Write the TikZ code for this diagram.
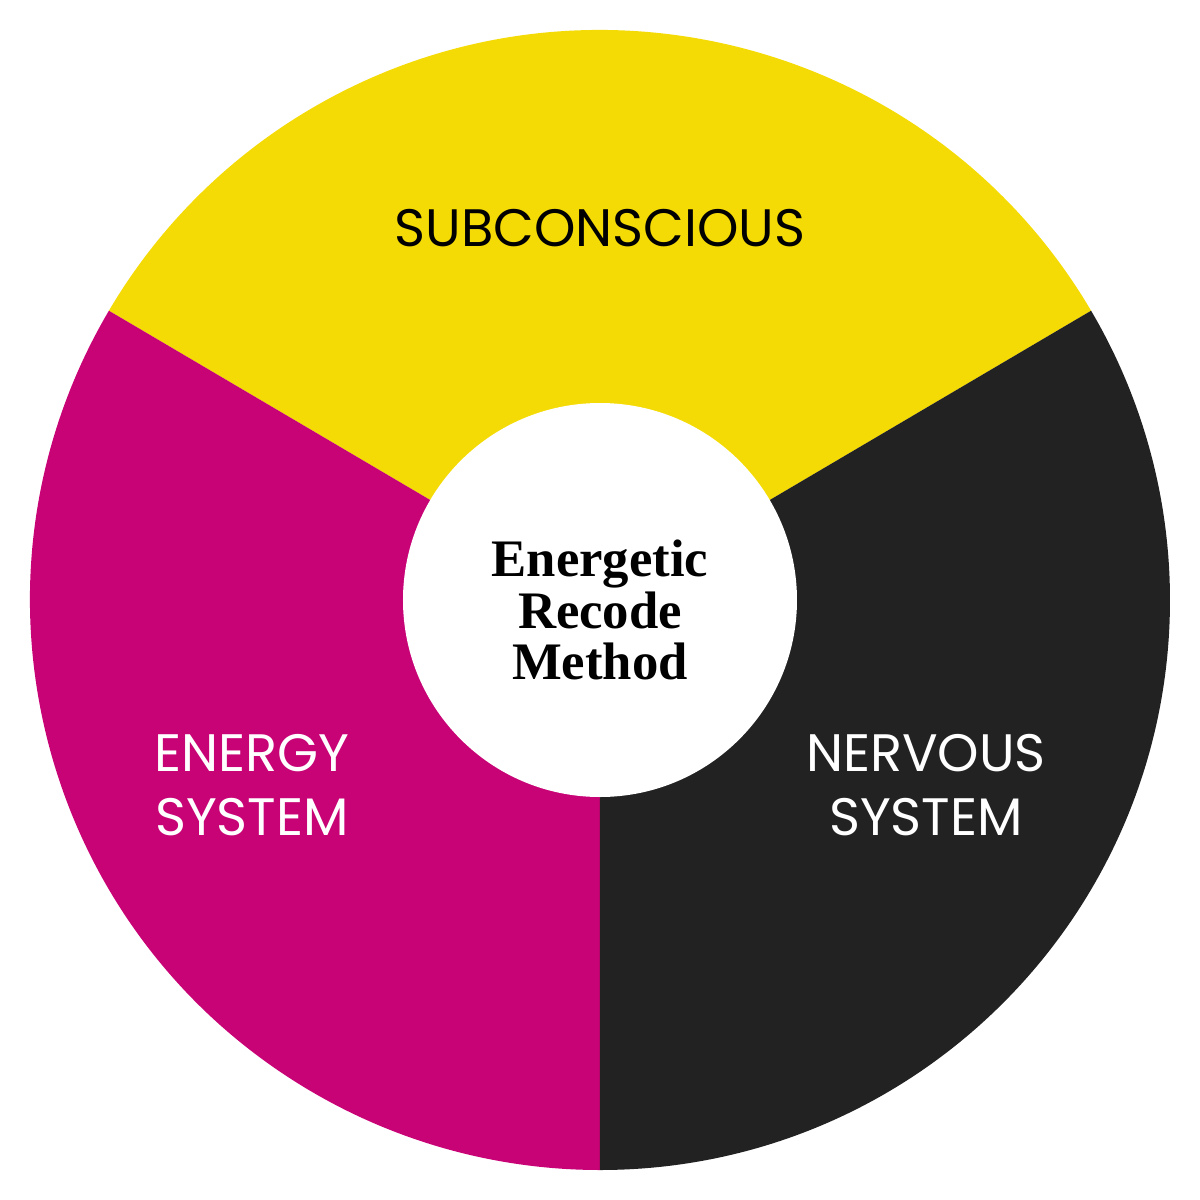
\documentclass[tikz,border=0pt]{standalone}
\usepackage{fontspec}
\setsansfont{Poppins}
\newfontfamily\recodefont{Liberation Serif}
\definecolor{subYellow}{HTML}{F5DB05}
\definecolor{energyPink}{HTML}{C80376}
\definecolor{nervousBlack}{HTML}{222222}

\tikzset{WheelLabel/.style={font=\sffamily\fontsize{15}{18}\selectfont,align=center},
         WheelHub/.style={circle,fill=white,minimum size=3.94cm,inner sep=0pt}}

\begin{document}
\begin{tikzpicture}[x=1cm,y=1cm,line cap=round]
  \useasboundingbox (-6,-6) rectangle (6,6);
  % Three sectors of the wheel, roughly 120 degrees each.
  \foreach \a/\b/\c in {30.5/149.5/subYellow,149.5/270/energyPink,270/390.5/nervousBlack} {
    \fill[\c] (0,0) -- (\a:5.7) arc[start angle=\a,end angle=\b,radius=5.7] -- cycle;
  }
  \node[WheelHub] (hub) at (0,0) {};
  \node[align=center,font=\recodefont\bfseries\fontsize{15}{14.6}\selectfont]
    (method) at (0,-0.1) {Energetic\\Recode\\Method};
  % Sector labels
  \node[WheelLabel,text=black] (subconscious) at (0,3.72) {SUBCONSCIOUS};
  \node[WheelLabel,text=white] (energy) at (-3.48,-1.85) {ENERGY\\SYSTEM};
  \node[WheelLabel,text=white] (nervous) at (3.26,-1.85) {NERVOUS\\SYSTEM};
\end{tikzpicture}
\end{document}
